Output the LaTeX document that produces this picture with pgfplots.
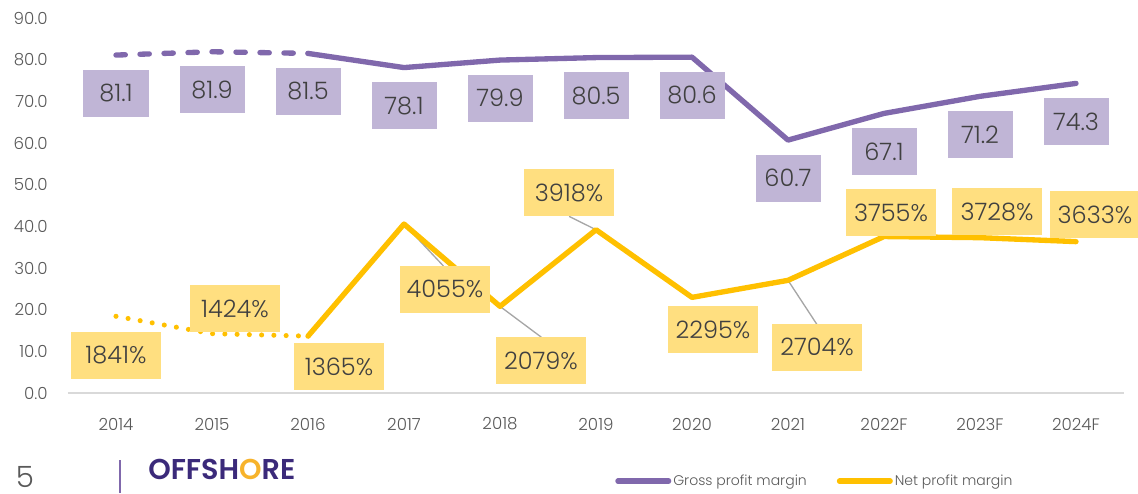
\documentclass[border=0pt]{standalone}
\usepackage{pgfplots}
\pgfplotsset{compat=1.18}
\usepackage{pgfplotstable}
\usepackage{fontspec}
\setmainfont{Poppins}[UprightFont=* Light, BoldFont=* SemiBold]

\definecolor{gpurple}{HTML}{8068AC}
\definecolor{gpurplefill}{HTML}{C0B5D6}
\definecolor{nyellow}{HTML}{FFC000}
\definecolor{nyellowfill}{HTML}{FFDF80}
\definecolor{ticktext}{HTML}{595959}
\definecolor{labtext}{HTML}{404040}
\definecolor{axisgray}{HTML}{D9D9D9}
\definecolor{leadergray}{HTML}{A6A6A6}
\definecolor{logopurple}{HTML}{3B2A7A}
\definecolor{logoorange}{HTML}{F7B32B}

\pgfplotstableread{
x gross net netlab ndx ndy
0 81.1 18.41 1841 0 -29.25
1 81.9 14.24 1424 17.25 18.75
2 81.5 13.65 1365 23.25 -22.9
3 78.1 40.55 4055 30.75 -48.75
4 79.9 20.79 2079 30.75 -40.5
5 80.5 39.18 3918 -20.25 27.75
6 80.6 22.95 2295 15.75 -24
7 60.7 27.04 2704 21.75 -50.25
8 67.1 37.55 3755 5.25 18
9 71.2 37.28 3728 12.75 19.5
10 74.3 36.33 3633 14.25 20.25
}\datatable

\begin{document}
\begin{tikzpicture}
\path[use as bounding box] (0,0) rectangle (853.5pt,369.75pt);
\begin{axis}[
  at={(51pt,75pt)}, anchor=south west,
  scale only axis, width=792pt, height=281.25pt,
  xmin=-0.5, xmax=10.5, ymin=0, ymax=90,
  clip=false,
  axis lines=left, axis line style={-},
  y axis line style={draw=none},
  x axis line style={draw=axisgray, line width=1.5pt},
  major tick length=0pt,
  xtick={0,1,2,3,4,5,6,7,8,9,10},
  xticklabels={2014,2015,2016,2017,2018,2019,2020,2021,2022F,2023F,2024F},
  ytick={0,10,20,30,40,50,60,70,80,90},
  /pgf/number format/assume math mode=true,
  yticklabel={\pgfmathprintnumber[fixed,fixed zerofill,precision=1]{\tick}},
  ticklabel style={font=\fontsize{12.5}{14}\selectfont, text=ticktext},
  xticklabel style={anchor=center, yshift=-23.25pt},
  yticklabel style={anchor=east, inner sep=0pt, xshift=-15pt},
  legend style={at={(0.518,-0.235)}, anchor=west, draw=none, fill=none,
    legend columns=2, font=\fontsize{10.5}{12}\selectfont, text=ticktext,
    inner sep=0pt, /tikz/every even column/.append style={column sep=21pt},
    nodes={inner xsep=1.5pt}},
  legend cell align=left,
  legend image code/.code={\draw[#1, solid, line width=4pt, line cap=round] (0pt,0pt) -- (38pt,0pt);},
]
% gross labels
\addplot[draw=none, mark=none, forget plot, point meta=explicit symbolic,
  nodes near coords,
  nodes near coords style={anchor=center, yshift=-28.5pt, fill=gpurplefill, text=labtext,
    font=\fontsize{18}{20}\selectfont, minimum width=48.75pt, minimum height=35.25pt, inner sep=0pt}]
  table[x=x, y=gross, meta=gross]{\datatable};
% net labels
\addplot[draw=none, mark=none, forget plot, point meta=explicit symbolic,
  visualization depends on={\thisrow{ndx}\as\ndx},
  visualization depends on={\thisrow{ndy}\as\ndy},
  nodes near coords={\pgfplotspointmeta\%},
  nodes near coords style={anchor=center, xshift=\ndx pt, yshift=\ndy pt, fill=nyellowfill, text=labtext,
    font=\fontsize{18}{20}\selectfont, minimum width=67.5pt, minimum height=35.25pt, inner sep=0pt}]
  table[x=x, y=net, meta=netlab]{\datatable};
% leader lines
\addplot[leadergray, line width=1pt, forget plot] coordinates {(3,40.55) (3.41,30.5)};
\addplot[leadergray, line width=1pt, forget plot] coordinates {(4,20.79) (4.43,13.4)};
\addplot[leadergray, line width=1pt, forget plot] coordinates {(5,39.18) (4.72,42.4)};
\addplot[leadergray, line width=1pt, forget plot] coordinates {(7,27.04) (7.30,16.5)};
% dashed / dotted segments
\addplot[gpurple, line width=4pt, line cap=round, dash pattern=on 7pt off 11pt, mark=none, forget plot,
  restrict x to domain=0:2] table[x=x, y=gross]{\datatable};
\addplot[nyellow, line width=3.8pt, line cap=round, dash pattern=on 0pt off 9.2pt, mark=none, forget plot,
  restrict x to domain=0:2] table[x=x, y=net]{\datatable};
% solid segments
\addplot[gpurple, line width=4pt, line cap=round, line join=round, mark=none,
  restrict x to domain=2:10] table[x=x, y=gross]{\datatable};
\addlegendentry{Gross profit margin}
\addplot[nyellow, line width=4pt, line cap=round, line join=round, mark=none,
  restrict x to domain=2:10] table[x=x, y=net]{\datatable};
\addlegendentry{Net profit margin}
\end{axis}
% slide footer
\node[anchor=south, text=ticktext, font=\fontsize{22}{24}\selectfont, inner sep=0pt] at (18.75pt,4pt) {5};
\draw[gpurple, line width=1.5pt] (90pt,0pt) -- (90pt,24.75pt);
\node[anchor=west, inner sep=0pt, font=\bfseries\fontsize{21.5}{23}\selectfont, text=logopurple] at (111pt,18pt)
  {OFFSH\textcolor{logoorange}{O}RE};
\end{tikzpicture}
\end{document}
